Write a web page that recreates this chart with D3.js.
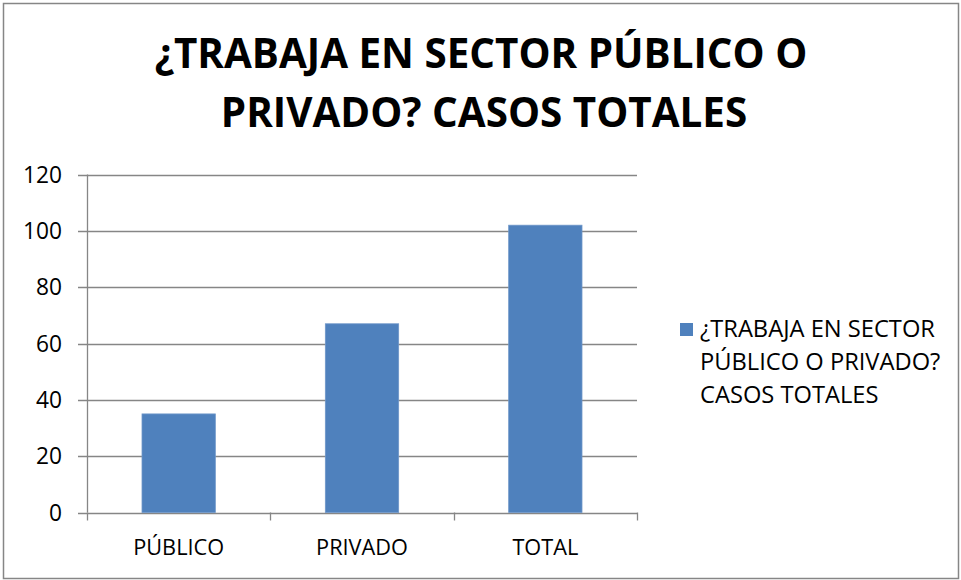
<!DOCTYPE html>
<html><head><meta charset="utf-8">
<script src="https://cdn.jsdelivr.net/npm/d3@7"></script>
<style>body{margin:0;background:#fff}svg{display:block}text{font-family:"Open Sans",sans-serif}</style>
</head><body>
<script>
const categories = ["PÚBLICO", "PRIVADO", "TOTAL"];
const values = [35, 67, 102];
const yTicks = [0, 20, 40, 60, 80, 100, 120];
const titleLines = ["¿TRABAJA EN SECTOR PÚBLICO O", "PRIVADO? CASOS TOTALES"];
const legendLines = ["¿TRABAJA EN SECTOR", "PÚBLICO O PRIVADO?", "CASOS TOTALES"];

const W = 961, H = 580;
const svg = d3.select("body").append("svg").attr("width", W).attr("height", H);
svg.append("rect").attr("x", 3.5).attr("y", 3.5).attr("width", 955).attr("height", 575)
  .attr("fill", "#fff").attr("stroke", "#868686").attr("stroke-width", 1.5);

function fit(t, target) {
  const w = t.node().getComputedTextLength();
  const fs = parseFloat(t.attr("font-size"));
  t.attr("font-size", fs * target / w);
}

// Title
const tl1 = svg.append("text").attr("x", 481).attr("y", 68).attr("text-anchor", "middle")
  .attr("font-weight", "bold").attr("font-size", 36).text(titleLines[0]);
fit(tl1, 653);
const tl2 = svg.append("text").attr("x", 484).attr("y", 127).attr("text-anchor", "middle")
  .attr("font-weight", "bold").attr("font-size", 36).text(titleLines[1]);
tl2.attr("font-size", tl1.attr("font-size"));

const x0 = 87, x1 = 637, yTop = 174.5, yBot = 512.5;
const x = d3.scaleBand().domain(categories).range([x0, x1]);
const y = d3.scaleLinear().domain([0, 120]).range([yBot, yTop]);

// gridlines
svg.append("g").selectAll("line").data(yTicks).join("line")
  .attr("x1", 78).attr("x2", x1).attr("y1", d => Math.round(y(d)) + 0.5).attr("y2", d => Math.round(y(d)) + 0.5)
  .attr("stroke", "#868686").attr("stroke-width", 1.3);

// y axis line
svg.append("line").attr("x1", x0 + 0.5).attr("x2", x0 + 0.5).attr("y1", yTop).attr("y2", yBot)
  .attr("stroke", "#868686").attr("stroke-width", 1.3);

// x ticks
const xt = categories.map(c => x(c)).concat([x1]);
svg.append("g").selectAll("line").data(xt).join("line")
  .attr("x1", d => Math.round(d) + 0.5).attr("x2", d => Math.round(d) + 0.5)
  .attr("y1", yBot).attr("y2", yBot + 8).attr("stroke", "#868686").attr("stroke-width", 1.3);

// y labels
const yl = svg.append("g").selectAll("text").data(yTicks).join("text")
  .attr("x", 62).attr("y", d => y(d)).attr("dy", "0.36em").attr("text-anchor", "end")
  .attr("font-size", 20).attr("fill", "#000").text(d => d);
const ylTop = yl.filter(d => d === 120);
fit(ylTop, 39);
yl.attr("font-size", ylTop.attr("font-size"));

// x labels
const xl = svg.append("g").selectAll("text").data(categories).join("text")
  .attr("x", d => x(d) + x.bandwidth() / 2).attr("y", 555).attr("text-anchor", "middle")
  .attr("font-size", 20).attr("fill", "#000").text(d => d);
const xlFirst = xl.filter((d, i) => i === 0);
fit(xlFirst, 91);
xl.attr("font-size", xlFirst.attr("font-size"));

// bars
const bw = x.bandwidth() * 0.4;
svg.append("g").selectAll("rect").data(values).join("rect")
  .attr("x", (d, i) => x(categories[i]) + (x.bandwidth() - bw) / 2)
  .attr("width", bw)
  .attr("y", d => y(d)).attr("height", d => yBot - y(d))
  .attr("fill", "#4F81BD").attr("stroke", "#6f97c9").attr("stroke-width", 0.8);

// legend
svg.append("rect").attr("x", 680).attr("y", 323).attr("width", 13).attr("height", 13).attr("fill", "#4F81BD");
const lg = svg.append("g");
legendLines.forEach((l, i) => {
  lg.append("text").attr("x", 700).attr("y", 337 + i * 33).attr("font-size", 18).attr("fill", "#000").text(l);
});
fit(lg.select("text"), 235);
lg.selectAll("text").attr("font-size", lg.select("text").attr("font-size"));
</script>
</body></html>
